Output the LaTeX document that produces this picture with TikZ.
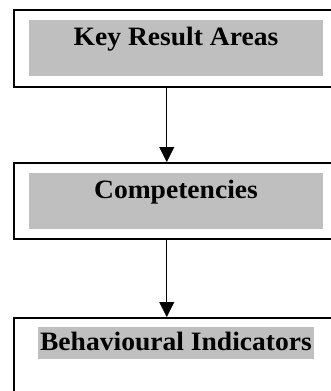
\documentclass[tikz,border=0pt]{standalone}
\usepackage{fontspec}
\setmainfont{Liberation Serif}
\newfontfamily\boxfont{Liberation Serif}[FakeStretch=1.04]
\usetikzlibrary{positioning, arrows.meta}
\tikzset{
  outerbox/.style={draw, line width=1.5pt, minimum width=326pt, anchor=north west, inner sep=0pt},
  shadebox/.style={fill=black!25, anchor=north west, inner sep=0pt},
  lbl/.style={font=\boxfont\bfseries\fontsize{26.5}{30}\selectfont, anchor=base, inner sep=0pt},
  flow/.style={line width=0.8pt, -{Triangle[length=15pt,width=15pt]}}
}
\begin{document}
\begin{tikzpicture}[x=1pt,y=-1pt]
    \useasboundingbox (0,0) rectangle (331,391);
    % first box
    \node[outerbox, minimum height=77pt] (kra) at (13,9) {};
    \node[shadebox, minimum width=294pt, minimum height=56pt] (kraShade) at (29,20) {};
    \node[lbl] (kraText) at (176,45) {Key Result Areas};
    %
    \node[outerbox, minimum height=76pt] (comp) at (13,162) {};
    \node[shadebox, minimum width=294pt, minimum height=56pt] (compShade) at (29,173) {};
    \node[lbl] (compText) at (176,198) {Competencies};
    %
    \node[outerbox, minimum height=95pt] (bi) at (13,317) {};
    \node[lbl, fill=black!25, inner xsep=2pt, inner ysep=0pt, text depth=9pt, text height=23pt] (biText) at (176,350) {Behavioural Indicators};
    % arrows
    \draw[flow] ([xshift=-10pt]kra.south) -- ([xshift=-10pt]comp.north);
    \draw[flow] ([xshift=-10pt]comp.south) -- ([xshift=-10pt]bi.north);
\end{tikzpicture}
\end{document}
